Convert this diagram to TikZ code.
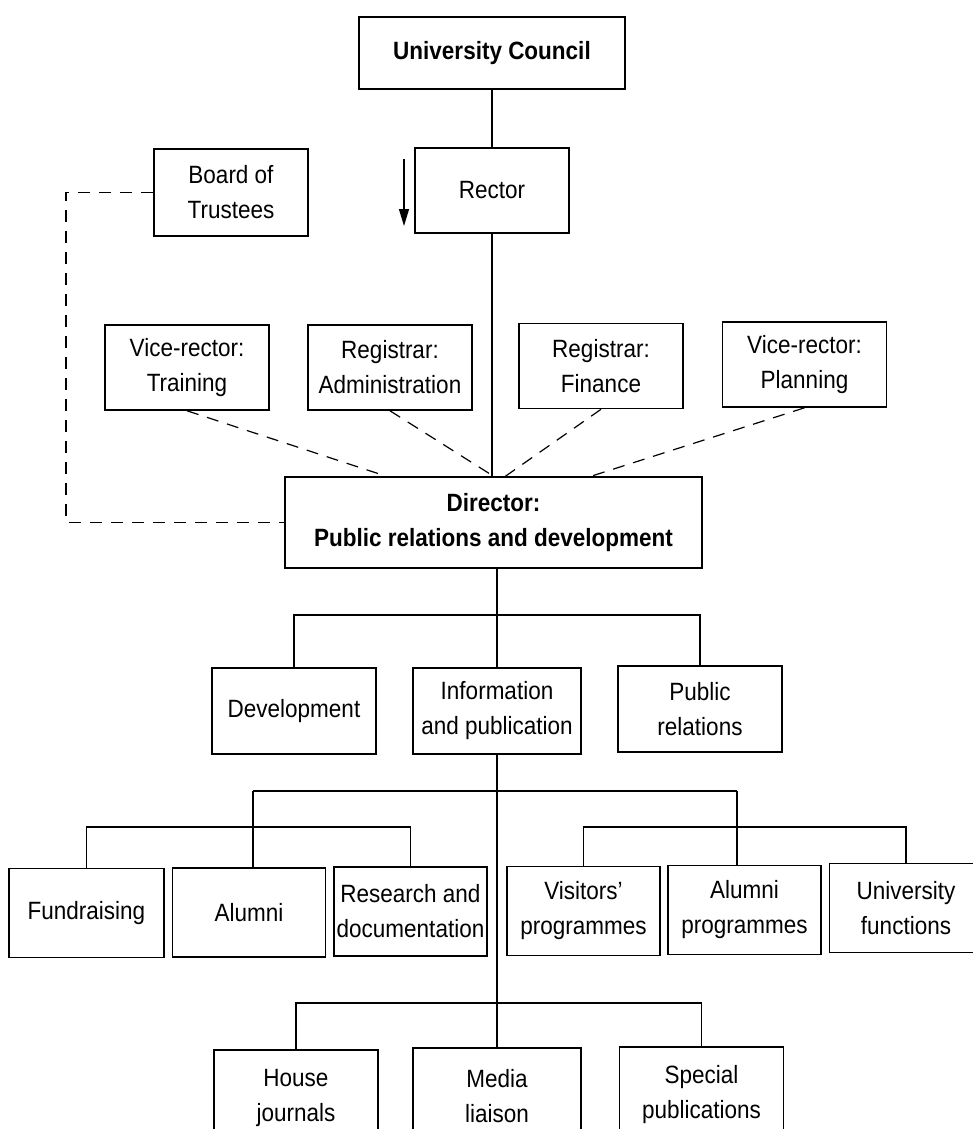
\documentclass[tikz,border=0pt]{standalone}
\usepackage{fontspec}
\setmainfont{Liberation Sans}[FakeStretch=0.9]
\usetikzlibrary{arrows.meta,calc}

\newcommand{\chartfont}{\fontsize{25}{35}\selectfont}

\tikzset{
  unit/.style={draw, line width=1.6pt, inner sep=0pt, align=center,
               minimum width=#1},
  unit/.default=164pt,
  head/.style={font=\chartfont\bfseries},
  link/.style={line width=1.2pt},
  dotted link/.style={line width=1.2pt, dash pattern=on 12pt off 9pt},
}

\begin{document}
\begin{tikzpicture}[x=1pt, y=-1pt, font=\chartfont]
\useasboundingbox (0,0) rectangle (972,1129);

% governing level
\node[unit=266pt, minimum height=72pt, head] (uc) at (492,53) {University Council};
\node[unit=154pt, minimum height=85pt] (rector) at (492,190.5) {Rector};
\node[unit=154pt, minimum height=87pt] (board) at (231,192.5) {Board of\\Trustees};

% vice-rectors and registrars
\node[unit, minimum height=85pt] (vrt) at (187,367.5) {Vice-rector:\\Training};
\node[unit, minimum height=85pt] (rga) at (390,367.5) {Registrar:\\Administration};
\node[unit, minimum height=85pt] (rgf) at (601,366) {Registrar:\\Finance};
\node[unit, minimum height=85pt] (vrp) at (804.5,364.5) {Vice-rector:\\Planning};

% director
\node[unit=417pt, minimum height=91pt, head] (dir) at (493.5,522.5)
  {Director:\\Public relations and development};

% departments
\node[unit, minimum height=86pt] (dev) at (294,711) {Development};
\node[unit=168pt, minimum height=86pt] (info) at (497,711) {Information\\and publication};
\node[unit, minimum height=86pt] (pr) at (700,709) {Public\\relations};

% sections
\node[unit=155pt, minimum height=89pt] (fund) at (86.5,913) {Fundraising};
\node[unit=153pt, minimum height=89pt] (alum) at (249,912.5) {Alumni};
\node[unit=153pt, minimum height=89pt] (res) at (410.5,911.5) {Research and\\documentation};
\node[unit=153pt, minimum height=89pt] (vis) at (583.5,911) {Visitors'\\programmes};
\node[unit=153pt, minimum height=89pt] (alp) at (744.5,910) {Alumni\\programmes};
\node[unit=153pt, minimum height=89pt] (unf) at (906,908) {University\\functions};

% publication units
\node[unit, minimum height=96pt] (house) at (296,1098) {House\\journals};
\node[unit=168pt, minimum height=96pt] (media) at (497,1096) {Media\\liaison};
\node[unit, minimum height=96pt] (special) at (701.5,1095) {Special\\publications};

% junction levels
\coordinate (bar1) at (0,615);
\coordinate (j1) at (253,791);
\coordinate (j2) at (737,791);
\coordinate (bar3) at (0,827);
\coordinate (bar4) at (0,1003);
\coordinate (edge) at (66,0);
\coordinate (arrTop) at (404,159);
\coordinate (arrEnd) at (404,226);

% line of command
\draw[link] (uc.south) -- (rector.north);
\draw[link] (rector.south) -- (rector.south |- dir.north);
\draw[link] (info.north |- dir.south) -- (info.north |- bar1);
\draw[link] (dev.north) |- (pr.north |- bar1) -- (pr.north);
\draw[link] (info.north |- bar1) -- (info.north);
\draw[link] (info.south) -- (media.north);
\draw[link] (j1) -- (j2);
\draw[link] (j1) -- (j1 |- alum.north);
\draw[link] (j2) -- (j2 |- alp.north);
\draw[link] (fund.north) |- (res.north |- bar3) -- (res.north);
\draw[link] (vis.north) |- (unf.north |- bar3) -- (unf.north);
\draw[link] (house.north) |- (special.north |- bar4) -- (special.north);

% direction of authority
\draw[link, -{Triangle[length=17pt, width=10pt]}] (arrTop) -- (arrEnd);

% advisory links
\draw[dotted link] (vrt.south) -- ($(dir.north west)+(102,0)$);
\draw[dotted link] (rga.south) -- (dir.north);
\draw[dotted link] (rgf.south) -- ($(dir.north)+(12,0)$);
\draw[dotted link] (vrp.south) -- ($(dir.north west)+(307,0)$);
\draw[dotted link] (board.west) -- (board.west -| edge) |- (dir.west);
\end{tikzpicture}
\end{document}
